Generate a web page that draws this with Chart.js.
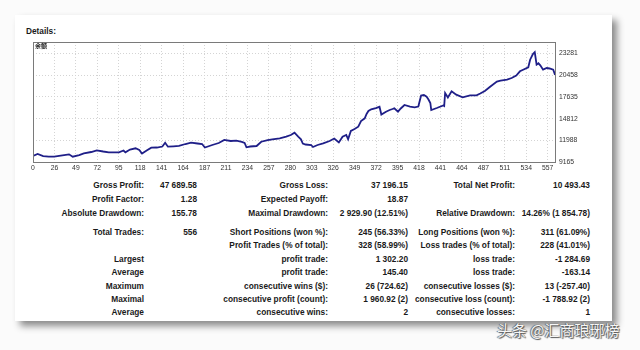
<!DOCTYPE html>
<html>
<head>
<meta charset="utf-8">
<script src="https://cdn.jsdelivr.net/npm/chart.js@4.4.1/dist/chart.umd.min.js"></script>
<style>
	html, body { margin: 0; padding: 0; }
	body { width: 640px; height: 350px; background: #fbfbfb; position: relative; overflow: hidden; font-family: 'Liberation Sans', Arial, sans-serif; }
	.card { position: absolute; left: 15px; top: 15px; width: 597px; height: 306px; background: #fff; box-shadow: 5px 5px 7px rgba(0, 0, 0, 0.45); }
	#balanceChart { position: absolute; left: 0; top: 0; }
	.txt { position: absolute; font-size: 8.3px; font-weight: bold; color: #1a1a1a; line-height: 10px; white-space: nowrap; text-align: right; }
	.title { position: absolute; left: 26px; top: 26px; font-size: 8.3px; font-weight: bold; color: #1a1a1a; line-height: 10px; }
	.series-name { position: absolute; left: 35px; top: 42px; font-family: 'Noto Sans CJK SC', sans-serif; font-size: 6px; font-weight: bold; color: #222; line-height: 8px; }
	.mark { position: absolute; left: 497px; top: 321px; font-family: 'Noto Sans CJK SC', sans-serif; font-size: 15px; color: #f6f6f6; line-height: 18px; white-space: nowrap;
		text-shadow: 0 0 1px #444, 1px 1px 1px #555, -1px 0 1px #666; }
</style>
</head>
<body>
<div class="card"></div>
<div class="title">Details:</div>
<canvas id="balanceChart" width="640" height="180"></canvas>
<div class="series-name">余额</div>
<div id="stats"></div>
<div class="mark">头条 @汇商琅琊榜</div>

<script>
	'use strict';

	// balance curve: trade number -> account balance
	const trades = [
		0, 5, 11, 17, 23, 30, 39, 43, 50, 55,
		63, 69, 76, 82, 93, 98, 100, 105, 111, 115,
		118, 123, 128, 134, 140, 143, 146, 152, 158, 165,
		171, 178, 183, 186, 194, 201, 207, 214, 220, 226,
		229, 231, 235, 242, 247, 254, 259, 267, 274, 279,
		283, 287, 290, 292, 295, 301, 303, 308, 314, 321,
		326, 331, 335, 339, 341, 344, 348, 352, 355, 359,
		361, 363, 366, 371, 375, 377, 382, 386, 389, 391,
		395, 398, 402, 408, 413, 417, 420, 423, 426, 428,
		430, 431, 437, 444, 445, 446, 449, 453, 458, 465,
		473, 480, 484, 489, 494, 502, 506, 513, 518, 523,
		527, 531, 536, 538, 541, 543, 545, 547, 549, 552,
		556, 559, 563, 565
	];
	const balance = [
		10000, 10250, 9990, 9900, 9900, 10030, 10210, 9900, 10120, 10340,
		10510, 10730, 10575, 10470, 10470, 10700, 10470, 10830, 10990, 10770,
		10315, 10700, 11065, 11090, 11220, 11710, 11200, 11250, 11290, 11545,
		11710, 11610, 11545, 11090, 11415, 11675, 12065, 11935, 11970, 11830,
		11675, 11115, 11220, 11285, 11840, 12060, 12150, 12280, 12490, 12710,
		13007, 12490, 12150, 11610, 11480, 11415, 11152, 11415, 11635, 11930,
		12255, 11740, 12490, 12710, 12150, 13230, 13485, 13785, 14520, 14870,
		15430, 15815, 16035, 16200, 16360, 15360, 15725, 15945, 16070, 16165,
		15725, 16140, 16590, 16370, 16295, 16395, 17820, 17885, 17665, 17300,
		16850, 15945, 16200, 16525, 16460, 18145, 17565, 18365, 17925, 17590,
		17845, 17845, 18080, 18400, 18880, 19630, 19760, 19865, 20085, 20410,
		20950, 21185, 21470, 22455, 23190, 23420, 21805, 21990, 21730, 21160,
		21380, 21315, 21160, 20493
	];

	// x labels sit at equal steps along the axis
	const xTickLabels = ['0', '26', '49', '72', '95', '118', '141', '164', '187', '211', '234', '257',
		'280', '303', '326', '349', '372', '395', '418', '441', '464', '487', '511', '534', '557'];
	const xLastTick = 557;
	const xMax = 566;

	const yTickValues = [9165, 11988.2, 14811.4, 17634.6, 20457.8, 23281];
	const yTickLabels = ['9165', '11988', '14812', '17635', '20458', '23281'];
	const yMin = 9087;
	const yMax = 24743;

	// report table: [label, value] per column, per row
	const statRows = [
		[['Gross Profit:', '47 689.58'], ['Gross Loss:', '37 196.15'], ['Total Net Profit:', '10 493.43']],
		[['Profit Factor:', '1.28'], ['Expected Payoff:', '18.87'], ['', '']],
		[['Absolute Drawdown:', '155.78'], ['Maximal Drawdown:', '2 929.90 (12.51%)'], ['Relative Drawdown:', '14.26% (1 854.78)']],
		[['Total Trades:', '556'], ['Short Positions (won %):', '245 (56.33%)'], ['Long Positions (won %):', '311 (61.09%)']],
		[['', ''], ['Profit Trades (% of total):', '328 (58.99%)'], ['Loss trades (% of total):', '228 (41.01%)']],
		[['Largest', ''], ['profit trade:', '1 302.20'], ['loss trade:', '-1 284.69']],
		[['Average', ''], ['profit trade:', '145.40'], ['loss trade:', '-163.14']],
		[['Maximum', ''], ['consecutive wins ($):', '26 (724.62)'], ['consecutive losses ($):', '13 (-257.40)']],
		[['Maximal', ''], ['consecutive profit (count):', '1 960.92 (2)'], ['consecutive loss (count):', '-1 788.92 (2)']],
		[['Average', ''], ['consecutive wins:', '2'], ['consecutive losses:', '1']]
	];

	const handleStatsTable = function () {
		const rowY = [185, 199, 213, 231.5, 245, 258.5, 272, 285.5, 298.5, 311.5];
		const labelRight = [144, 328, 515];
		const valueRight = [197, 408, 590];
		const box = document.getElementById('stats');

		statRows.forEach(function (row, r) {
			row.forEach(function (cell, c) {
				[[cell[0], labelRight[c]], [cell[1], valueRight[c]]].forEach(function (part) {
					if (!part[0]) return;
					const el = document.createElement('div');
					el.className = 'txt';
					el.textContent = part[0];
					el.style.right = (640 - part[1]) + 'px';
					el.style.top = (rowY[r] - 5) + 'px';
					box.appendChild(el);
				});
			});
		});
	};

	// grey frame round the plot area
	const plotFrame = {
		id: 'plotFrame',
		afterDatasetsDraw: function (chart) {
			const a = chart.chartArea;
			const ctx = chart.ctx;
			ctx.save();
			ctx.strokeStyle = '#7a7a7a';
			ctx.lineWidth = 1;
			ctx.strokeRect(Math.round(a.left) + 0.5, Math.round(a.top) + 0.5,
				Math.round(a.right - a.left) - 1, Math.round(a.bottom - a.top) - 1);
			ctx.restore();
		}
	};

	const handleInitialChart = function () {
		const ctx = document.getElementById('balanceChart').getContext('2d');
		const tickFont = { family: "'Liberation Sans', Arial, sans-serif", size: 6.8 };

		new Chart(ctx, {
			type: 'line',
			data: {
				datasets: [{
					data: trades.map(function (t, i) { return { x: t, y: balance[i] }; }),
					borderColor: '#1f1f88',
					borderWidth: 1.8,
					pointRadius: 0,
					tension: 0,
					fill: false
				}]
			},
			options: {
				responsive: false,
				animation: false,
				devicePixelRatio: 1,
				plugins: {
					legend: { display: false },
					tooltip: { enabled: false }
				},
				layout: {
					padding: { left: 33, top: 42, right: 58, bottom: 7 }
				},
				scales: {
					x: {
						type: 'linear',
						min: 0,
						max: xMax,
						afterBuildTicks: function (axis) {
							axis.ticks = xTickLabels.map(function (l, i) {
								return { value: i * xLastTick / (xTickLabels.length - 1) };
							});
						},
						afterFit: function (axis) { axis.height = 10; },
						grid: { color: '#d4d4d4', lineWidth: 1, drawTicks: false },
						border: { display: false, dash: [1, 2] },
						ticks: {
							color: '#333',
							font: tickFont,
							padding: 1,
							autoSkip: false,
							maxRotation: 0,
							callback: function (value, index) { return xTickLabels[index]; }
						}
					},
					y: {
						type: 'linear',
						position: 'right',
						min: yMin,
						max: yMax,
						afterBuildTicks: function (axis) {
							axis.ticks = yTickValues.map(function (v) { return { value: v }; });
						},
						afterFit: function (axis) { axis.width = 26; },
						grid: { color: '#d4d4d4', lineWidth: 1, drawTicks: false },
						border: { display: false, dash: [1, 2] },
						ticks: {
							color: '#333',
							font: tickFont,
							padding: 3,
							callback: function (value, index) { return yTickLabels[index]; }
						}
					}
				}
			},
			plugins: [plotFrame]
		});
	};

	handleStatsTable();
	handleInitialChart();
</script>
</body>
</html>
